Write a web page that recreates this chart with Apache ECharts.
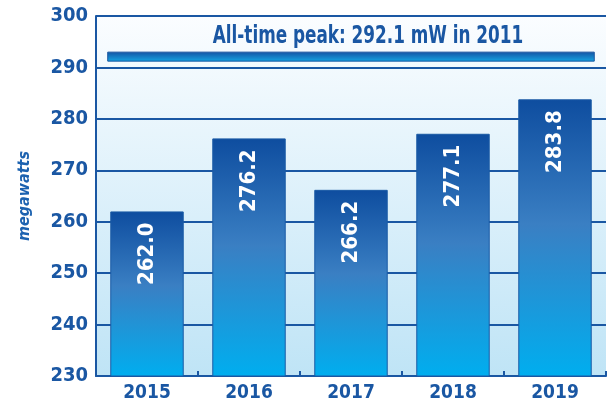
<!DOCTYPE html>
<html>
<head>
<meta charset="utf-8">
<script src="https://cdn.jsdelivr.net/npm/echarts@6/dist/echarts.min.js"></script>
<style>
html, body { margin: 0; padding: 0; background: #fff; }
#chart { width: 608px; height: 407px; }
</style>
</head>
<body>
<div id="chart"></div>
<script>
// 数据
var years = ['2015', '2016', '2017', '2018', '2019'];
var peakLoad = [262.0, 276.2, 266.2, 277.1, 283.8];
var allTimePeak = 292.1;
var allTimePeakYear = '2011';

var FONT = "'Liberation Sans Narrow', 'DejaVu Sans Condensed', sans-serif";
var DARK = '#1a57a3';

var myChart = echarts.init(document.getElementById('chart'));
var option = {
    animation: false,
    grid: {
        left: 96,
        right: 2,
        top: 16,
        bottom: 31,
        show: true,
        borderWidth: 0,
        backgroundColor: new echarts.graphic.LinearGradient(0, 0, 0, 1, [
            { offset: 0, color: '#fbfdff' },
            { offset: 1, color: '#bfe4f6' }
        ])
    },
    xAxis: {
        type: 'category',
        data: years,
        axisLine: { lineStyle: { color: DARK, width: 2 } },
        axisTick: { show: true, inside: true, length: 5, lineStyle: { color: DARK, width: 2 } },
        axisLabel: { color: DARK, fontSize: 19, fontWeight: 'bold', fontFamily: FONT, margin: 8 }
    },
    yAxis: {
        type: 'value',
        min: 230,
        max: 300,
        interval: 10,
        name: 'megawatts',
        nameLocation: 'middle',
        nameGap: 63,
        nameTextStyle: { color: '#1c62b0', fontSize: 16, fontStyle: 'italic', fontWeight: 'bold', fontFamily: FONT },
        axisLine: { show: true, lineStyle: { color: DARK, width: 2 } },
        axisTick: { show: false },
        splitLine: { show: true, lineStyle: { color: DARK, width: 2 } },
        axisLabel: { color: DARK, fontSize: 20, fontWeight: 'bold', fontFamily: FONT, margin: 8 }
    },
    series: [
        {
            type: 'bar',
            data: peakLoad,
            barWidth: '72%',
            itemStyle: {
                borderColor: '#1a5aa5',
                borderWidth: 1,
                color: new echarts.graphic.LinearGradient(0, 0, 0, 1, [
                    { offset: 0, color: '#0e4d9f' },
                    { offset: 0.45, color: '#3a7fc3' },
                    { offset: 1, color: '#00aeef' }
                ])
            },
            label: {
                show: true,
                position: 'insideTop',
                rotate: 90,
                align: 'right',
                verticalAlign: 'middle',
                distance: 11,
                color: '#fff',
                fontSize: 22,
                fontWeight: 'bold',
                fontFamily: FONT,
                formatter: function (p) { return p.value.toFixed(1); }
            }
        },
        {
            // 历史峰值横条
            type: 'custom',
            data: [[0, allTimePeak]],
            encode: { x: 0, y: 1 },
            z: 5,
            renderItem: function (params, api) {
                var y = api.coord([0, api.value(1)])[1];
                var bw = api.size([1, 0])[0];
                var x0 = api.coord([0, api.value(1)])[0] - bw * 0.385;
                var x1 = api.coord([years.length - 1, api.value(1)])[0] + bw * 0.385;
                return {
                    type: 'group',
                    children: [
                        {
                            type: 'rect',
                            shape: { x: x0, y: y - 4.5, width: x1 - x0, height: 9 },
                            style: {
                                fill: new echarts.graphic.LinearGradient(0, 0, 0, 1, [
                                    { offset: 0, color: '#1452a3' },
                                    { offset: 1, color: '#14a6e3' }
                                ]),
                                stroke: '#1a56a0',
                                lineWidth: 1
                            }
                        },
                        {
                            type: 'text',
                            x: (x0 + x1) / 2 + 17,
                            y: y - 20,
                            scaleX: 0.78,
                            style: {
                                x: 0,
                                y: 0,
                                text: 'All-time peak: ' + allTimePeak.toFixed(1) + ' mW in ' + allTimePeakYear,
                                textAlign: 'center',
                                textVerticalAlign: 'middle',
                                fill: DARK,
                                font: 'bold 24px ' + FONT
                            }
                        }
                    ]
                };
            }
        }
    ]
};
myChart.setOption(option);
</script>
</body>
</html>
